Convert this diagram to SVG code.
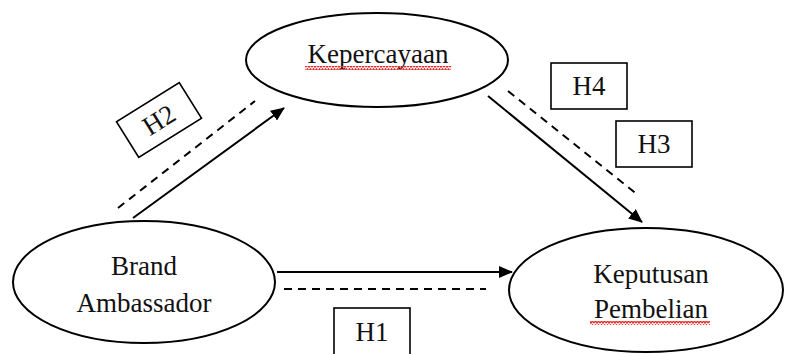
<svg xmlns="http://www.w3.org/2000/svg" width="786" height="354" viewBox="0 0 786 354">
  <style>
    .node { fill: #fff; stroke: #000; stroke-width: 2; }
    .label { font-family: "Liberation Serif", "Times New Roman", serif; font-size: 27px; fill: #111; text-anchor: middle; }
    .tag { fill: #fff; stroke: #000; stroke-width: 1.6; }
    .solid { stroke: #000; stroke-width: 2; fill: none; marker-end: url(#arrow); }
    .dash { stroke: #000; stroke-width: 2; fill: none; stroke-dasharray: 8 6; }
  </style>
  <defs>
    <marker id="arrow" viewBox="0 0 14 12" refX="13" refY="6" markerWidth="14" markerHeight="12" markerUnits="userSpaceOnUse" orient="auto">
      <path d="M0,0 L14,6 L0,12 Z" fill="#000"/>
    </marker>
    <!-- red wavy spell-check underline -->
    <pattern id="wave" width="6" height="4" patternUnits="userSpaceOnUse">
      <path d="M0,3.2 L1.5,0.8 L3,3.2 L4.5,0.8 L6,3.2" stroke="#e53030" stroke-width="1.3" fill="none"/>
    </pattern>
  </defs>
  <rect width="786" height="354" fill="#fff"/>

  <g id="connectors">
    <line class="solid" x1="133" y1="218" x2="284" y2="108"/>
    <line class="dash" x1="118" y1="208" x2="255" y2="101"/>
    <line class="solid" x1="488" y1="96" x2="642" y2="222"/>
    <line class="dash" x1="508" y1="91" x2="638" y2="195"/>
    <line class="solid" x1="277" y1="272" x2="512" y2="272"/>
    <line class="dash" x1="284" y1="289" x2="486" y2="289"/>
  </g>

  <g id="kepercayaan">
    <ellipse class="node" cx="377" cy="60" rx="131" ry="47"/>
    <text class="label" x="378" y="63">Kepercayaan</text>
    <rect x="305" y="66" width="146" height="4" fill="url(#wave)"/>
  </g>

  <g id="brand-ambassador">
    <ellipse class="node" cx="144" cy="282" rx="131" ry="61"/>
    <text class="label" x="144" y="275">Brand</text>
    <text class="label" x="144" y="312">Ambassador</text>
  </g>

  <g id="keputusan-pembelian">
    <ellipse class="node" cx="646" cy="290" rx="137" ry="62"/>
    <text class="label" x="651" y="283">Keputusan</text>
    <text class="label" x="651" y="318">Pembelian</text>
    <rect x="590" y="321" width="120" height="4" fill="url(#wave)"/>
  </g>

  <g id="h1">
    <rect class="tag" x="334" y="308" width="76" height="50"/>
    <text class="label" x="372" y="341">H1</text>
  </g>

  <g id="h2" transform="translate(159,120) rotate(-32)">
    <rect class="tag" x="-37" y="-21" width="74" height="42"/>
    <text class="label" x="0" y="9">H2</text>
  </g>

  <g id="h3">
    <rect class="tag" x="616" y="121" width="76" height="46"/>
    <text class="label" x="654" y="153">H3</text>
  </g>

  <g id="h4">
    <rect class="tag" x="551" y="63" width="76" height="46"/>
    <text class="label" x="589" y="95">H4</text>
  </g>
</svg>
